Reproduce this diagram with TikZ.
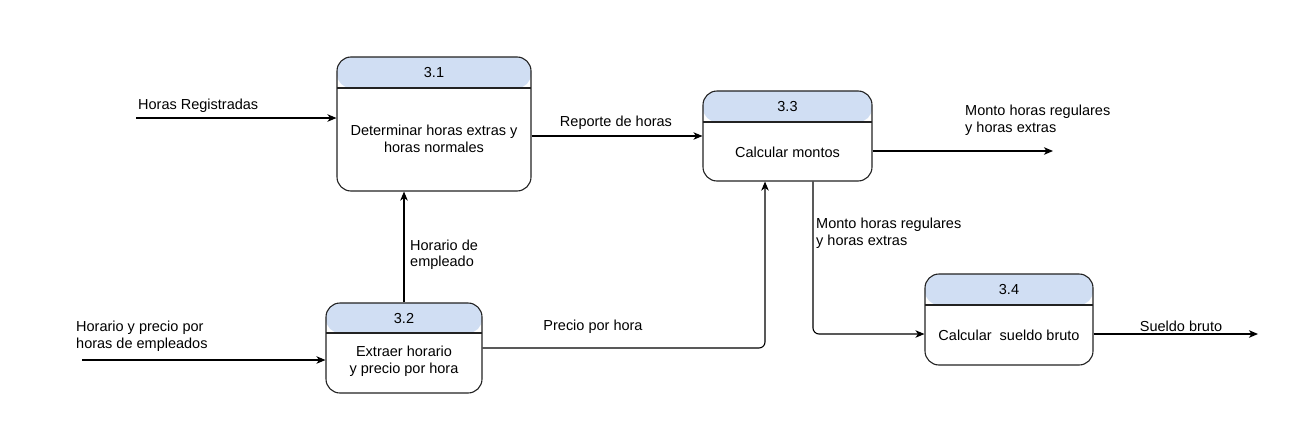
\documentclass[tikz,border=0pt]{standalone}
\usepackage{fontspec}
\setmainfont{Liberation Sans}
\usetikzlibrary{arrows.meta,calc}
\definecolor{hdr}{HTML}{D0DEF3}
\definecolor{edge}{HTML}{222222}
\tikzset{
  proc/.style={draw=edge, line width=1.1pt, fill=white, rounded corners=14pt, inner sep=0pt},
  hdrfill/.style={path picture={
      \fill[hdr] (path picture bounding box.north west) rectangle ([yshift=-#1]path picture bounding box.north east);
      \draw[edge, line width=1.1pt] ([yshift=-#1]path picture bounding box.north west) -- ([yshift=-#1]path picture bounding box.north east);}},
  txt/.style={font=\fontsize{14.5}{16.5}\selectfont, align=left, inner sep=0pt},
  ctxt/.style={font=\fontsize{14.5}{16.5}\selectfont, align=center, inner sep=0pt},
  arr/.style={draw=black, line width=1.1pt, -{Stealth[length=9pt,width=7.5pt,inset=2.5pt]}, rounded corners=6pt},
}
\begin{document}
\begin{tikzpicture}[x=1pt,y=-1pt]
\useasboundingbox (0,0) rectangle (1315,442);
% boxes
\node[proc, hdrfill=31pt, minimum width=194pt, minimum height=134pt] (b31) at (434,124) {};
\node[proc, hdrfill=31pt, minimum width=169pt, minimum height=90pt] (b33) at (787.5,136) {};
\node[proc, hdrfill=30pt, minimum width=156pt, minimum height=90pt] (b32) at (404,348) {};
\node[proc, hdrfill=31pt, minimum width=168pt, minimum height=91pt] (b34) at (1009,319.5) {};
% box texts
\node[ctxt] (t31) at (434,72.5) {3.1};
\node[ctxt] (d31) at (434,139) {Determinar horas extras y\\horas normales};
\node[ctxt] (t33) at (787.5,107) {3.3};
\node[ctxt] (d33) at (787.5,152) {Calcular montos};
\node[ctxt] (t32) at (404,319) {3.2};
\node[ctxt] (d32) at (404,361) {Extraer horario\\y precio por hora};
\node[ctxt] (t34) at (1009,290) {3.4};
\node[ctxt] (d34) at (1009,335) {Calcular\ \ sueldo bruto};
% free ends
\coordinate (hr) at (136,118);
\coordinate (hin) at (82,360);
\coordinate (o33) at (1053,151);
\coordinate (o34) at (1258,334);
\coordinate (k1) at (813,0);
\coordinate (k2) at (0,334);
\coordinate (k3) at (765,0);
% connectors
\draw[arr] (hr) -- (hr -| b31.west);
\draw[arr] (b31.east |- b33.west) -- (b33.west);
\draw[arr] (o33 -| b33.east) -- (o33);
\draw[arr] (k1 |- b33.south) |- (k2 -| b34.west);
\draw[arr] (b34.east |- o34) -- (o34);
\draw[arr] (hin) -- (hin -| b32.west);
\draw[arr] (b32.north) -- (b32.north |- b31.south);
\draw[arr] (b32.east) -| (k3 |- b33.south);
% labels
\node[txt, anchor=west] (l1) at (138,106) {Horas Registradas};
\node[txt] (l2) at (616,123) {Reporte de horas};
\node[txt, anchor=west] (l3) at (965,120) {Monto horas regulares\\y horas extras};
\node[txt, anchor=west] (l4) at (816,233) {Monto horas regulares\\y horas extras};
\node[txt] (l5) at (1181,326) {Sueldo bruto};
\node[txt, anchor=west] (l6) at (76,336) {Horario y precio por\\horas de empleados};
\node[txt, anchor=west] (l7) at (410,254.5) {Horario de\\empleado};
\node[txt] (l8) at (593,327) {Precio por hora};
\end{tikzpicture}
\end{document}
